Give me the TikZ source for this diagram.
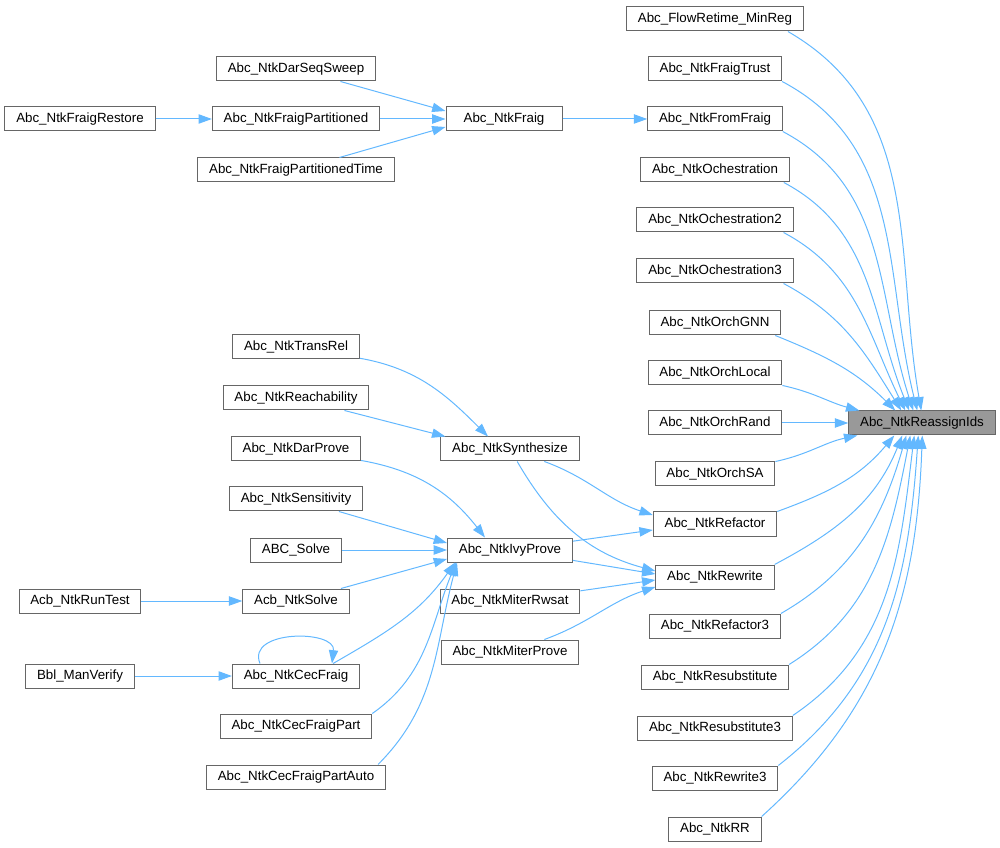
\documentclass[tikz,border=0pt]{standalone}
\usepackage{fontspec}
\usepackage{xcolor}
\usepackage{tikz}
\usetikzlibrary{arrows.meta,calc}
\newfontfamily\dxfont{Liberation Sans}
\definecolor{dxedge}{HTML}{63B8FF}
\definecolor{dxborder}{HTML}{666666}
\definecolor{dxfocus}{HTML}{999999}

\begin{document}
\begin{tikzpicture}[
  x=0.75pt, y=-0.75pt,
  fn/.style={rectangle, draw=dxborder, line width=0.75pt, fill=#1,
             inner xsep=8.5pt, inner ysep=0pt, minimum height=18pt,
             font=\dxfont\fontsize{10}{12}\selectfont},
  fn/.default=white,
  call/.style={-{Triangle[length=10pt,width=7pt]}, draw=dxedge, fill=none,
               line width=0.75pt},
]
\useasboundingbox (0,0) rectangle (1000,848);

% focus function
\node[fn=dxfocus] (ids) at (922,423) {Abc\_NtkReassignIds};

% direct callers
\node[fn] (retime)    at (715,19)  {Abc\_FlowRetime\_MinReg};
\node[fn] (trust)     at (715,69)  {Abc\_NtkFraigTrust};
\node[fn] (fromfraig) at (715,119) {Abc\_NtkFromFraig};
\node[fn] (orch)      at (715,170) {Abc\_NtkOchestration};
\node[fn] (orch2)     at (715,220) {Abc\_NtkOchestration2};
\node[fn] (orch3)     at (715,271) {Abc\_NtkOchestration3};
\node[fn] (gnn)       at (715,323) {Abc\_NtkOrchGNN};
\node[fn] (local)     at (715,373) {Abc\_NtkOrchLocal};
\node[fn] (rand)      at (715,423) {Abc\_NtkOrchRand};
\node[fn] (sa)        at (715,474) {Abc\_NtkOrchSA};
\node[fn] (refactor)  at (715,524) {Abc\_NtkRefactor};
\node[fn] (rewrite)   at (715,577) {Abc\_NtkRewrite};
\node[fn] (refactor3) at (715,626) {Abc\_NtkRefactor3};
\node[fn] (resub)     at (715,677) {Abc\_NtkResubstitute};
\node[fn] (resub3)    at (715,728) {Abc\_NtkResubstitute3};
\node[fn] (rewrite3)  at (715,778) {Abc\_NtkRewrite3};
\node[fn] (rr)        at (715,829) {Abc\_NtkRR};

% second level
\node[fn, minimum width=87pt] (fraig) at (504,119) {Abc\_NtkFraig};
\node[fn] (synth)      at (510,449) {Abc\_NtkSynthesize};
\node[fn] (ivy)        at (510,550) {Abc\_NtkIvyProve};
\node[fn] (rwsat)      at (510,601) {Abc\_NtkMiterRwsat};
\node[fn] (miterprove) at (510,652) {Abc\_NtkMiterProve};

% third level
\node[fn] (darseq)    at (296,69)  {Abc\_NtkDarSeqSweep};
\node[fn] (fpart)     at (296,119) {Abc\_NtkFraigPartitioned};
\node[fn] (fparttime) at (296,170) {Abc\_NtkFraigPartitionedTime};
\node[fn] (transrel)  at (296,347) {Abc\_NtkTransRel};
\node[fn] (reach)     at (296,398) {Abc\_NtkReachability};
\node[fn] (darprove)  at (296,449) {Abc\_NtkDarProve};
\node[fn] (sens)      at (296,499) {Abc\_NtkSensitivity};
\node[fn] (solve)     at (296,550) {ABC\_Solve};
\node[fn] (acbsolve)  at (296,601) {Acb\_NtkSolve};
\node[fn] (cec)       at (296,676) {Abc\_NtkCecFraig};
\node[fn] (cecpart)   at (296,726) {Abc\_NtkCecFraigPart};
\node[fn] (cecauto)   at (296,777) {Abc\_NtkCecFraigPartAuto};

% fourth level
\node[fn] (restore)   at (80,119) {Abc\_NtkFraigRestore};
\node[fn] (runtest)   at (80,601) {Acb\_NtkRunTest};
\node[fn] (manverify) at (80,676) {Bbl\_ManVerify};

% edges into the focus function, from above
\draw[call] ($(retime.south east)+(-16,0)$) to[out=-30,in=100] ($(ids.north west)+(73,0)$);
\draw[call] (trust.south east) to[out=-28,in=104] ($(ids.north west)+(69,0)$);
\draw[call] (fromfraig.south east) to[out=-28,in=108] ($(ids.north west)+(65,0)$);
\draw[call] ($(orch.south east)+(-6,0)$) to[out=-28,in=112] ($(ids.north west)+(61,0)$);
\draw[call] ($(orch2.south east)+(-10,0)$) to[out=-28,in=116] ($(ids.north west)+(57,0)$);
\draw[call] ($(orch3.south east)+(-10,0)$) to[out=-28,in=122] ($(ids.north west)+(53,0)$);
\draw[call] ($(gnn.south east)+(-6,0)$) to[out=-22,in=135] ($(ids.north west)+(47,0)$);
\draw[call] (local.south east) to[out=-12,in=165] ($(ids.north west)+(11,0)$);
\draw[call] (rand) -- (ids);
% edges into the focus function, from below
\draw[call] (sa.north east) to[out=12,in=-168] ($(ids.south west)+(9,0)$);
\draw[call] (refactor.north east) to[out=20,in=-130] ($(ids.south west)+(46,0)$);
\draw[call] (rewrite.north east) to[out=28,in=-112] ($(ids.south west)+(54,0)$);
\draw[call] (refactor3.north east) to[out=30,in=-106] ($(ids.south west)+(58,0)$);
\draw[call] (resub.north east) to[out=32,in=-101] ($(ids.south west)+(62,0)$);
\draw[call] (resub3.north east) to[out=34,in=-97] ($(ids.south west)+(66,0)$);
\draw[call] (rewrite3.north east) to[out=38,in=-94] ($(ids.south west)+(70,0)$);
\draw[call] (rr.north east) to[out=42,in=-92] ($(ids.south west)+(74,0)$);

% fraig chain
\draw[call] (restore) -- (fpart);
\draw[call] (darseq) -- ($(fraig.west)+(0,-8)$);
\draw[call] (fpart) -- (fraig);
\draw[call] (fparttime) -- ($(fraig.west)+(0,8)$);
\draw[call] (fraig) -- (fromfraig);

% synthesis and proving
\draw[call] (transrel) to[out=-10,in=135] ($(synth.north)+(-22,0)$);
\draw[call] (reach) -- ($(synth.north west)+(5,0)$);
\draw[call] (synth) to[out=-20,in=162] ($(refactor.west)+(0,-9)$);
\draw[call] (synth) to[out=-60,in=165] ($(rewrite.west)+(0,-6)$);
\draw[call] (ivy) -- ($(refactor.west)+(0,6)$);
\draw[call] (ivy) -- ($(rewrite.west)+(0,-3)$);
\draw[call] (rwsat) -- ($(rewrite.west)+(0,3)$);
\draw[call] (miterprove) to[out=20,in=-162] ($(rewrite.west)+(0,10)$);

\draw[call] (darprove) to[out=-10,in=128] ($(ivy.north)+(-25,0)$);
\draw[call] (sens) -- ($(ivy.west)+(0,-7)$);
\draw[call] (solve) -- (ivy);
\draw[call] (acbsolve) -- ($(ivy.west)+(0,9)$);
\draw[call] ($(cec.north east)+(-27,0)$) to[out=30,in=-125] ($(ivy.south west)+(8,0)$);
\draw[call] (cecpart.north east) to[out=35,in=-112] ($(ivy.south west)+(9,0)$);
\draw[call] ($(cecauto.north east)+(-8,0)$) to[out=45,in=-105] ($(ivy.south west)+(10,0)$);
\draw[call] ($(cec.north)+(-36,0)$) .. controls ($(cec.north)+(-50,-34)$) and ($(cec.north)+(40,-34)$) .. ($(cec.north)+(36,0)$);

\draw[call] (runtest) -- (acbsolve);
\draw[call] (manverify) -- (cec);

\end{tikzpicture}
\end{document}
